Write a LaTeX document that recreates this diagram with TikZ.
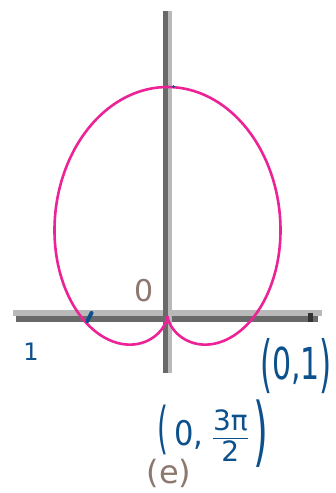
\documentclass[tikz,border=0pt]{standalone}
\usepackage{fontspec}
\newfontfamily\handfont{DejaVu Sans}
\newfontfamily\labfont{DejaVu Sans}
\definecolor{curvepink}{RGB}{235,35,150}
\definecolor{inkblue}{RGB}{12,80,140}
\definecolor{axdark}{RGB}{105,105,105}
\definecolor{axlight}{RGB}{185,185,185}
\definecolor{labgray}{RGB}{140,120,110}
\newcommand{\tallparen}[3]{\raisebox{#2}{\fontsize{#3}{#3}\selectfont\scalebox{0.5}[1]{#1}}}
\begin{document}
\begin{tikzpicture}[x=1pt,y=-1pt,
  ink/.style={text=inkblue,inner sep=0pt},
  lab/.style={text=labgray,inner sep=0pt,font=\labfont\fontsize{30}{30}\selectfont}]
\useasboundingbox (0,0) rectangle (335,493);
\fill[white] (0,0) rectangle (335,493);
% axes
\fill[axlight] (13,310) rectangle (322,316);
\fill[axdark] (16,316) rectangle (318,322);
\fill[black!80] (308,313) rectangle (313,322);
\fill[axdark] (163,11) rectangle (168,373);
\fill[axlight] (168,11) rectangle (172,373);
% cardioid r = 1 + sin(theta)
\draw[curvepink,line width=2.6pt] plot[domain=0:360,samples=240,smooth]
  ({167.5+87*(1+sin(\x))*cos(\x)},{316-114.5*(1+sin(\x))*sin(\x)});
% blue pen marks
\draw[inkblue,line width=4pt,line cap=round] (87.5,321) -- (91.5,313);
\fill[inkblue] (173.5,86.5) circle (1.5);
% labels
\node[lab] (o) at (144,291) {0};
\node[lab,font=\labfont\fontsize{32}{32}\selectfont] (e) at (169,473) {(e)};
\node[ink,font=\handfont\fontsize{24}{24}\selectfont] (one) at (31,352) {1};
\node[ink,font=\handfont\fontsize{40}{40}\selectfont] (p1) at (296,366)
  {\tallparen{(}{-6pt}{62}\scalebox{0.75}[1.1]{0,1}\tallparen{)}{-6pt}{62}};
\node[ink,font=\handfont\fontsize{34}{34}\selectfont] (p2) at (213,436)
  {\tallparen{(}{-2pt}{56}\,\scalebox{0.9}[1]{0,}\;%
   \begin{tabular}{@{}c@{}}\fontsize{28}{28}\selectfont 3π\\[-3pt]\hline\fontsize{28}{28}\selectfont 2\end{tabular}%
   \,\tallparen{)}{-12pt}{76}};
\end{tikzpicture}
\end{document}
